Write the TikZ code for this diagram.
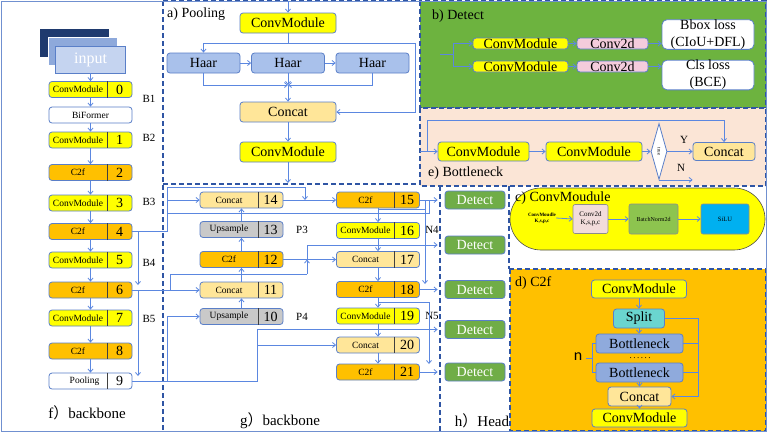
\documentclass[tikz,border=0pt]{standalone}
\usepackage{fontspec}
\setmainfont{Liberation Serif}
\newfontfamily\cjkf{Noto Sans CJK SC}
\newfontfamily\calib{Carlito}
\usetikzlibrary{arrows.meta,shapes.geometric}
\definecolor{lnc}{HTML}{5B87E0}
\definecolor{dsh}{HTML}{2F55A4}
\definecolor{outc}{HTML}{7090D0}
\definecolor{bdc}{HTML}{5A7FC8}
\definecolor{yel}{HTML}{FFFF00}
\definecolor{org}{HTML}{FFC000}
\definecolor{cat}{HTML}{FFE699}
\definecolor{ups}{HTML}{C9C9C9}
\definecolor{haar}{HTML}{A9C1EB}
\definecolor{grn}{HTML}{6DB33F}
\definecolor{peach}{HTML}{FBE5D6}
\definecolor{pnk}{HTML}{F4CCDC}
\definecolor{cpink}{HTML}{F2DCDB}
\definecolor{bng}{HTML}{8DC44F}
\definecolor{silu}{HTML}{00B0F0}
\definecolor{splt}{HTML}{6AD5CF}
\definecolor{botb}{HTML}{8FAADC}
\definecolor{navy}{HTML}{1F3A6E}
\definecolor{midb}{HTML}{8EA9DB}
\definecolor{ltb}{HTML}{C5D4F0}
\definecolor{detg}{HTML}{70AD47}
\tikzset{
  ln/.style={draw=lnc, line width=0.8pt},
  arr/.style={ln, -{Straight Barb[length=3pt,width=5pt]}},
  pnl/.style={draw=dsh, line width=1.4pt, dash pattern=on 5pt off 3pt},
  bx/.style={draw=bdc, line width=0.8pt, rounded corners=3pt, inner sep=0pt},
  blk/.style={bx, minimum width=83pt, minimum height=16pt},
  divl/.style={draw=black!75, line width=0.8pt},
  t9/.style={font=\fontsize{9.5}{11}\selectfont, inner sep=0pt},
  tnum/.style={font=\fontsize{14}{16}\selectfont, inner sep=0pt},
  t14/.style={font=\fontsize{14}{16}\selectfont},
  tlab/.style={font=\fontsize{11}{12}\selectfont, inner sep=0pt},
  det/.style={bx, fill=detg, minimum width=60pt, minimum height=18pt, text=white, font=\fontsize{14}{16}\selectfont},
  big/.style={bx, minimum height=20pt, font=\fontsize{14}{16}\selectfont},
  small/.style={bx, minimum height=11pt, font=\fontsize{14}{16}\selectfont},
  dbox/.style={bx, minimum height=19pt, font=\fontsize{14}{16}\selectfont},
  cbox/.style={draw=black!45, line width=0.6pt, rounded corners=2pt, inner sep=0pt, minimum height=30pt, align=center},
}
\newcommand\blk[6]{%
  \node[blk, fill=#4] (#1) at (#2,#3) {};
  \draw[divl] ([xshift=16.5pt]#1.north) -- ([xshift=16.5pt]#1.south);
  \node[t9] (#1l) at ([xshift=-12.5pt]#1.center) {#5};
  \node[tnum] (#1n) at ([xshift=29pt]#1.center) {#6};
}
\begin{document}
\begin{tikzpicture}[x=1pt,y=-1pt]
\useasboundingbox (0,0) rectangle (767,432);
\fill[white] (0,0) rectangle (767,432);
% ---------- panel backgrounds ----------
\draw[pnl, fill=grn] (420,1) rectangle (766,108);
\draw[pnl, fill=peach] (420,108) rectangle (766,186);
\draw[pnl, fill=org] (510,269) rectangle (766,431);
\draw[pnl] (163,1) -- (163,431);
\draw[pnl] (163,1) -- (420,1);
\draw[pnl] (163,184) -- (420,184);
\draw[pnl] (440,186) -- (440,431);
\draw[pnl] (509,186) -- (509,269);
\draw[draw=outc, line width=1pt] (1,1) rectangle (766,431);
\draw[draw=black!70, line width=0.6pt, fill=yel, rounded corners=31pt] (510,188) rectangle (765,250);

% ---------- panel f ----------
\node[fill=navy, inner sep=0pt, minimum width=69pt, minimum height=28pt] (inpA) at (74.5,43) {};
\node[fill=midb, draw=white, line width=0.6pt, inner sep=0pt, minimum width=69pt, minimum height=28pt] (inpB) at (82.5,51) {};
\node[fill=ltb, draw=bdc, line width=0.8pt, inner sep=0pt, minimum width=70pt, minimum height=27pt, text=white, font=\fontsize{16}{17}\selectfont] (inp) at (90.5,59.5) {input};
\blk{f0}{90.5}{89.5}{yel}{ConvModule}{0}
\node[blk, t9, fill=white] (bif) at (90.5,115) {BiFormer};
\blk{f1}{90.5}{140}{yel}{ConvModule}{1}
\blk{f2}{90.5}{172.5}{org}{C2f}{2}
\blk{f3}{90.5}{203}{yel}{ConvModule}{3}
\blk{f4}{90.5}{231.5}{org}{C2f}{4}
\blk{f5}{90.5}{260}{yel}{ConvModule}{5}
\blk{f6}{90.5}{290}{org}{C2f}{6}
\blk{f7}{90.5}{318}{yel}{ConvModule}{7}
\blk{f8}{90.5}{351}{org}{C2f}{8}
\blk{f9}{90.5}{381}{white}{}{9}
\node[t9] (f9l) at ([xshift=-6pt]f9.center) {Pooling};
\foreach \a/\b in {inp/f0,f0/bif,bif/f1,f1/f2,f2/f3,f3/f4,f4/f5,f5/f6,f6/f7,f7/f8,f8/f9}
  \draw[arr] (\a.south) -- (\b.north);
\node[tlab] (B1) at (149,99) {B1};
\node[tlab] (B2) at (149,138) {B2};
\node[tlab] (B3) at (149,202) {B3};
\node[tlab] (B4) at (149,263) {B4};
\node[tlab] (B5) at (149,319) {B5};
\coordinate (v1a) at (138,231.5);
\coordinate (v1b) at (138,285);
\coordinate (v2a) at (138,290);
\coordinate (v2b) at (138,376);
\draw[arr] (v1a) -- (v1b);
\draw[arr] (v2a) -- (v2b);
\node[font=\fontsize{15}{16}\selectfont] (lf) at (87,413) {f{\cjkf ）}backbone};

% ---------- panel a ----------
\node[anchor=west, t14, inner sep=0pt] (la) at (167,14) {a) Pooling};
\node[big, fill=yel, minimum width=96pt] (a1) at (288,23) {ConvModule};
\node[big, fill=haar, minimum width=73pt] (h1) at (203.5,63) {Haar};
\node[big, fill=haar, minimum width=73pt] (h2) at (288,63) {Haar};
\node[big, fill=haar, minimum width=73pt] (h3) at (372.5,63) {Haar};
\node[big, fill=cat, minimum width=96pt] (acat) at (288,112) {Concat};
\node[big, fill=yel, minimum width=96pt] (a2) at (288,152) {ConvModule};
\coordinate (ca0) at (288,1);
\coordinate (ca1) at (288,43);
\coordinate (ca2) at (415,43);
\coordinate (ca4) at (288,85);
\coordinate (ca5) at (288,183);
\draw[arr] (ca0) -- (a1.north);
\draw[ln] (a1.south) -- (ca1);
\draw[arr] (ca1) -| (h1.north);
\draw[ln] (ca1) -- (ca2);
\draw[arr] (ca2) |- (acat.east);
\draw[arr] (h1.east) -- (h2.west);
\draw[arr] (h2.east) -- (h3.west);
\draw[arr] (h1.south) |- (ca4);
\draw[arr] (h3.south) |- (ca4);
\draw[arr] (h2.south) -- (ca4);
\draw[arr] (ca4) -- (acat.north);
\draw[arr] (acat.south) -- (a2.north);
\draw[arr] (a2.south) -- (ca5);

% ---------- panel b ----------
\node[anchor=west, t14, inner sep=0pt] (lb) at (432,16) {b) Detect};
\node[small, fill=yel, minimum width=95pt] (bc1) at (520.5,43.5) {ConvModule};
\node[small, fill=pnk, minimum width=71pt] (bk1) at (612.5,43.5) {Conv2d};
\node[bx, fill=white, rounded corners=5pt, minimum width=92pt, minimum height=29pt, align=center, font=\fontsize{14}{17}\selectfont] (bl1) at (708,34.5) {Bbox loss\\(CIoU+DFL)};
\node[small, fill=yel, minimum width=95pt] (bc2) at (520.5,66.5) {ConvModule};
\node[small, fill=pnk, minimum width=71pt] (bk2) at (612.5,66.5) {Conv2d};
\node[bx, fill=white, rounded corners=5pt, minimum width=92pt, minimum height=28pt, align=center, font=\fontsize{14}{17}\selectfont] (bl2) at (708,75) {Cls loss\\(BCE)};
\coordinate (cb0) at (440,54);
\coordinate (cb1) at (453,54);
\coordinate (cb2) at (453,43.5);
\coordinate (cb3) at (453,66.5);
\draw[ln] (cb0) -- (cb1);
\draw[ln] (cb2) -- (cb3);
\draw[arr] (cb2) -- (bc1.west);
\draw[arr] (cb3) -- (bc2.west);
\draw[arr] (bc1.east) -- (bk1.west);
\draw[arr] (bc2.east) -- (bk2.west);
\draw[arr] (bk1.east) -- (bk1.east -| bl1.west);
\draw[arr] (bk2.east) -- (bk2.east -| bl2.west);

% ---------- panel e ----------
\node[dbox, fill=yel, minimum width=91pt] (e1) at (483.5,151.5) {ConvModule};
\node[dbox, fill=yel, minimum width=96pt] (e2) at (594,151.5) {ConvModule};
\node[diamond, draw=bdc, line width=0.8pt, fill=white, inner sep=0pt, minimum width=16pt, minimum height=56pt] (ed) at (659,151.5) {};
\node[rotate=-90, font=\fontsize{5}{6}\selectfont, inner sep=0pt] (edt) at (ed.center) {true};
\node[dbox, fill=cat, minimum width=62pt, minimum height=18pt] (ecat) at (724,151.5) {Concat};
\coordinate (ce0) at (420,151.5);
\coordinate (ce1) at (427,151.5);
\coordinate (ce2) at (427,120);
\coordinate (ce3) at (724,120);
\draw[arr] (ce0) -- (e1.west);
\draw[ln] (ce1) -- (ce2) -- (ce3);
\draw[arr] (ce3) -- (ecat.north);
\draw[arr] (e1.east) -- (e2.west);
\draw[arr] (e2.east) -- (ed.west);
\draw[arr] (ed.east) -- (ecat.west);
\draw[arr] (ed.south) -- (ed.south -| ecat.west);
\node[tlab] (lY) at (684,140) {Y};
\node[tlab] (lN) at (681,168) {N};
\node[anchor=west, t14, inner sep=0pt] (le) at (428,173) {e) Bottleneck};

% ---------- panel c ----------
\node[anchor=west, t14, inner sep=0pt] (lc) at (515,198) {c) ConvMoudule};
\node[font=\bfseries\fontsize{5}{6}\selectfont, align=center, inner sep=0pt] (cin) at (542,218) {ConvMoudle\\K,s,p,c};
\node[cbox, fill=cpink, minimum width=35pt, minimum height=29pt, font=\fontsize{7}{8.5}\selectfont] (cc1) at (590.5,219) {Conv2d\\K,s,p,c};
\node[cbox, fill=bng, minimum width=49pt, font=\fontsize{6}{7}\selectfont] (cc2) at (653.5,219) {BatchNorm2d};
\node[cbox, fill=silu, minimum width=48pt, font=\fontsize{6.5}{7}\selectfont] (cc3) at (725,219) {SiLU};
\draw[arr] (cin.east) -- (cc1.west);
\draw[arr] (cc1.east) -- (cc2.west);
\draw[arr] (cc2.east) -- (cc3.west);

% ---------- panel d ----------
\node[anchor=west, t14, inner sep=0pt] (ld) at (515,283) {d) C2f};
\node[dbox, fill=yel, minimum width=95pt, minimum height=18pt] (dc1) at (639,289) {ConvModule};
\node[dbox, fill=splt, minimum width=51pt] (split) at (639,318.5) {Split};
\node[dbox, fill=botb, minimum width=87pt] (bn1) at (639.5,343.5) {Bottleneck};
\node[font=\fontsize{9}{9}\selectfont, inner sep=0pt, text height=1.5pt, text depth=0pt] (ddots) at (640,358) {.\,.\,.\,.\,.\,.};
\node[dbox, fill=botb, minimum width=87pt] (bn2) at (639.5,372.5) {Bottleneck};
\node[dbox, fill=cat, minimum width=63pt] (dcat) at (639.5,396.5) {Concat};
\node[dbox, fill=yel, minimum width=95pt, minimum height=18pt] (dc2) at (639.5,418) {ConvModule};
\draw[arr] (dc1.south) -- (dc1.south |- split.north);
\draw[arr] (split.south) -- (split.south |- bn1.north);
\draw[arr] (bn2.south) -- (dcat.north);
\draw[arr] (dcat.south) -- (dc2.north);
\coordinate (dr1) at (698,318.5);
\coordinate (dr2) at (698,396.5);
\draw[ln] (split.east) -- (dr1) -- (dr2);
\draw[arr] (dr2) -- (dcat.east);
\draw[ln] (bn1.east) -- (bn1.east -| dr1);
\draw[ln] (bn2.east) -- (bn2.east -| dr1);
\coordinate (br1) at (592,343.5);
\coordinate (br2) at (592,372.5);
\coordinate (br3) at (592,358);
\coordinate (br4) at (586,358);
\draw[ln] (bn1.west) -- (br1) -- (br2) -- (bn2.west);
\draw[ln] (br3) -- (br4);
\node[font=\calib\fontsize{16}{16}\selectfont, inner sep=0pt] (nlab) at (578,357) {n};

% ---------- panel h ----------
\node[det] (det1) at (475,200) {Detect};
\node[det] (det2) at (475,245) {Detect};
\node[det] (det3) at (475,289.5) {Detect};
\node[det] (det4) at (475,329.5) {Detect};
\node[det] (det5) at (475,372) {Detect};
\node[font=\fontsize{15}{16}\selectfont, inner sep=0pt] (lh) at (482,421) {h{\cjkf ）}Head};

% ---------- panel g ----------
\blk{g14}{241.5}{200}{cat}{Concat}{14}
\blk{g13}{241.5}{229.5}{ups}{Upsample}{13}
\blk{g12}{241.5}{259.5}{org}{C2f}{12}
\blk{g11}{241.5}{290}{cat}{Concat}{11}
\blk{g10}{241.5}{316.5}{ups}{Upsample}{10}
\blk{g15}{378}{200}{org}{C2f}{15}
\blk{g16}{378}{230.5}{yel}{ConvModule}{16}
\blk{g17}{378}{259.5}{cat}{Concat}{17}
\blk{g18}{378}{289.5}{org}{C2f}{18}
\blk{g19}{378}{316}{yel}{ConvModule}{19}
\blk{g20}{378}{345}{cat}{Concat}{20}
\blk{g21}{378}{372}{org}{C2f}{21}
\node[tlab] (P3) at (302,230) {P3};
\node[tlab] (P4) at (302,317) {P4};
\node[tlab] (N4) at (432,230) {N4};
\node[tlab] (N5) at (432,316) {N5};
\node[font=\fontsize{15}{16}\selectfont, inner sep=0pt] (lg) at (280,421) {g{\cjkf ）}backbone};
% chains
\draw[arr] (g10.north) -- (g11.south);
\draw[arr] (g11.north) -- (g12.south);
\draw[arr] (g12.north) -- (g13.south);
\draw[arr] (g13.north) -- (g14.south);
\draw[arr] (g14.east) -- (g15.west);
\draw[arr] (g15.south) -- (g16.north);
\draw[arr] (g16.south) -- (g17.north);
\draw[arr] (g17.south) -- (g18.north);
\draw[arr] (g18.south) -- (g19.north);
\draw[arr] (g19.south) -- (g20.north);
\draw[arr] (g20.south) -- (g21.north);
\draw[arr] (g12.east) -- (g17.west);
% from C2f 4
\coordinate (c4a) at (167,231.5);
\coordinate (c4b) at (167,187);
\coordinate (c4c) at (305,187);
\coordinate (c4d) at (305,200);
\coordinate (c4e) at (167,200);
\coordinate (c4f) at (167,213);
\coordinate (c4g) at (429,213);
\coordinate (c4h) at (429,200);
\draw[ln] (f4.east) -- (c4a) -- (c4b) -- (c4c);
\draw[arr] (c4c) -- (c4d);
\draw[arr] (c4e) -- (g14.west);
\draw[ln] (c4f) -- (c4g) -- (c4h);
% from C2f 15
\coordinate (c15a) at (425,200);
\coordinate (c15b) at (378,209);
\coordinate (c15c) at (425,209);
\coordinate (c15d) at (425,284);
\draw[arr, shorten >=7pt] (g15.east) -- (det1.west);
\draw[ln] (c15b) -- (c15c);
\draw[arr] (c15a) -- (c15d);
% from C2f 6
\coordinate (c6a) at (170,290);
\coordinate (c6b) at (170,274);
\coordinate (c6c) at (307,274);
\coordinate (c6d) at (307,259.5);
\coordinate (c12b) at (307,245);
\draw[ln] (f6.east) -- (c6a);
\draw[arr] (c6a) -- (g11.west);
\draw[ln] (c6a) -- (c6b) -- (c6c);
\draw[arr] (c6c) -- (c6d);
\draw[ln] (c6d) -- (c12b);
\draw[arr, shorten >=7pt] (c12b) -- (det2.west);
% from C2f 18
\coordinate (c18a) at (378,302);
\coordinate (c18b) at (429,302);
\coordinate (c18c) at (429,364);
\draw[arr, shorten >=7pt] (g18.east) -- (det3.west);
\draw[ln] (c18a) -- (c18b);
\draw[arr] (c18b) -- (c18c);
% from Pooling 9
\coordinate (c9a) at (167,381);
\coordinate (c9b) at (167,316.5);
\coordinate (c9c) at (257,381);
\coordinate (c9d) at (257,329.5);
\coordinate (c9e) at (257,345);
\draw[ln] (f9.east) -- (c9a) -- (c9c) -- (c9d);
\draw[ln] (c9a) -- (c9b);
\draw[arr] (c9b) -- (g10.west);
\draw[arr, shorten >=7pt] (c9d) -- (det4.west);
\draw[arr] (c9e) -- (g20.west);
\draw[arr, shorten >=7pt] (g21.east) -- (det5.west);
\end{tikzpicture}
\end{document}
